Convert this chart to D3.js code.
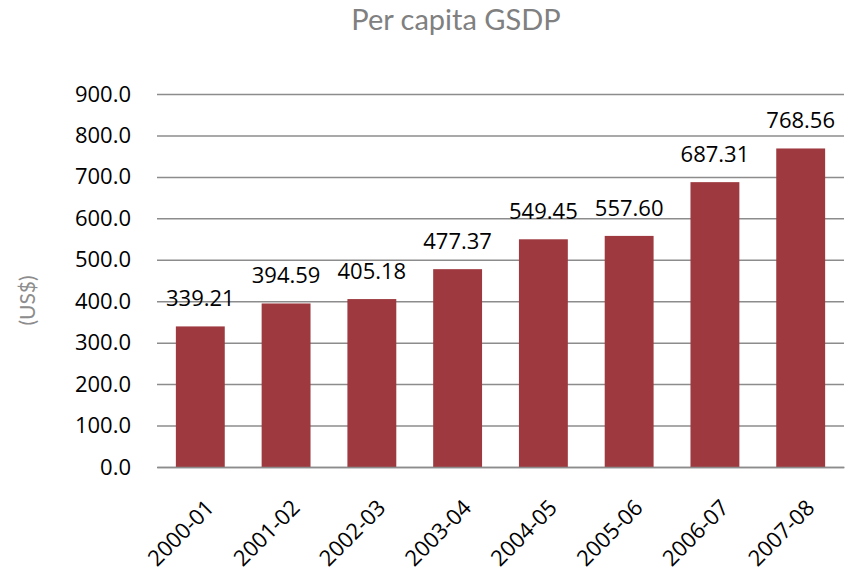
<!DOCTYPE html>
<html><head><meta charset="utf-8">
<script src="https://cdn.jsdelivr.net/npm/d3@7"></script>
<style>body{margin:0;background:#fff}svg{display:block}</style>
</head><body>
<script>
const categories = ["2000-01","2001-02","2002-03","2003-04","2004-05","2005-06","2006-07","2007-08"];
const values = [339.21,394.59,405.18,477.37,549.45,557.60,687.31,768.56];
const yTicks = [0,100,200,300,400,500,600,700,800,900];

const W=846,H=574;
const m={left:157,right:2,top:94,bottom:107};
const svg=d3.select("body").append("svg").attr("width",W).attr("height",H);
const x=d3.scaleBand().domain(categories).range([m.left,W-m.right]).paddingInner(0.43).paddingOuter(0.22);
const y=d3.scaleLinear().domain([0,900]).range([H-m.bottom,m.top]);
const font="'Open Sans', Carlito, Calibri, sans-serif";

svg.append("text").attr("x",456).attr("y",30).attr("text-anchor","middle")
  .attr("font-family","Lato, 'Gill Sans', sans-serif").attr("font-size",29).attr("fill","#808080").text("Per capita GSDP");

svg.append("text").attr("transform",`translate(35,${(y(0)+y(900))/2+20}) rotate(-90)`).attr("text-anchor","middle")
  .attr("font-family","Lato, sans-serif").attr("font-size",21).attr("fill","#8c8c8c").text("(US$)");

const ya=svg.append("g").attr("transform",`translate(${m.left},0)`)
  .call(d3.axisLeft(y).tickValues(yTicks).tickFormat(d3.format(".1f")).tickSize(-(W-m.left-m.right)).tickPadding(26));
ya.select(".domain").remove();
ya.selectAll(".tick line").attr("stroke","#8c8c8c").attr("stroke-width",1.5);
ya.selectAll(".tick text").attr("font-family",font).attr("font-size",22).attr("fill","#000");

svg.selectAll("rect.bar").data(values).join("rect").attr("class","bar")
  .attr("x",(d,i)=>x(categories[i])).attr("width",x.bandwidth())
  .attr("y",d=>y(d)).attr("height",d=>y(0)-y(d)).attr("fill","#9e3a3f");

svg.selectAll("text.lbl").data(values).join("text").attr("class","lbl")
  .attr("x",(d,i)=>x(categories[i])+x.bandwidth()/2).attr("y",d=>y(d)-20)
  .attr("text-anchor","middle").attr("font-family",font).attr("font-size",22).attr("fill","#000")
  .text(d=>d.toFixed(2));

const xa=svg.append("g").attr("transform",`translate(0,${y(0)})`).call(d3.axisBottom(x).tickSize(0));
xa.select(".domain").attr("stroke","#8c8c8c").attr("stroke-width",1.5);
xa.selectAll(".tick text").attr("font-family",font).attr("font-size",22).attr("fill","#000")
  .attr("text-anchor","end").attr("dy",0).attr("transform","translate(13,40) rotate(-45)");
</script>
</body></html>
